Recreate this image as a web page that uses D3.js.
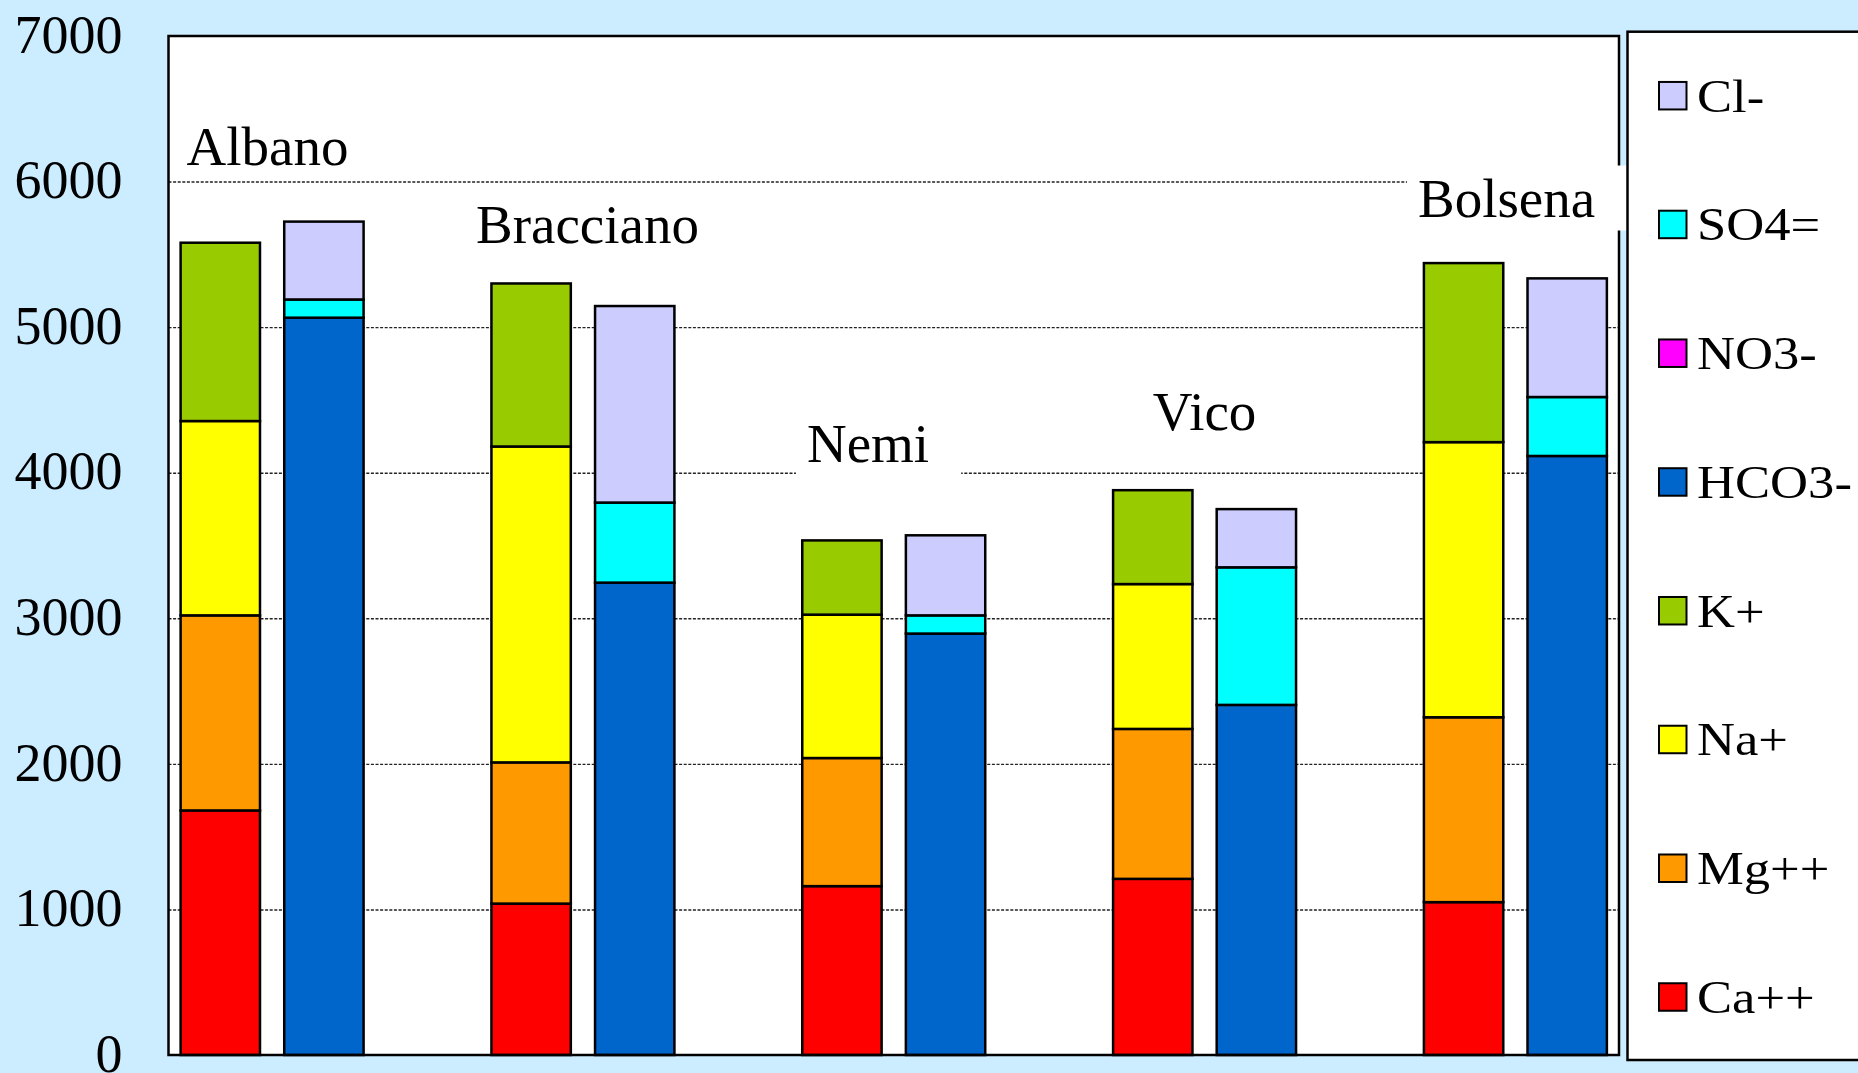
<!DOCTYPE html>
<html>
<head>
<meta charset="utf-8">
<script src="https://cdn.jsdelivr.net/npm/d3@7"></script>
<style>
  html, body { margin: 0; padding: 0; background: #CCECFF; }
  svg { display: block; }
  text { font-family: "Liberation Serif", "Times New Roman", serif; fill: #000; }
</style>
</head>
<body>
<svg id="chart" width="1858" height="1073"></svg>
<script>
// Lakes, each drawn as a cation column and an anion column
const lakes = ["Albano", "Bracciano", "Nemi", "Vico", "Bolsena"];

// Ion series in stacking order (bottom to top)
const cationKeys = ["Ca++", "Mg++", "Na+", "K+"];
const anionKeys  = ["HCO3-", "NO3-", "SO4=", "Cl-"];

// Cation concentrations per lake
const caValues   = [1680, 1040, 1160, 1210, 1050];
const mgValues   = [1340,  970,  880, 1030, 1270];
const naValues   = [1335, 2170,  985,  995, 1890];
const kValues    = [1225, 1120,  510,  645, 1230];

// Anion concentrations per lake
const hco3Values = [5065, 3245, 2895, 2405, 4115];
const no3Values  = [   0,    0,    0,    0,    0];
const so4Values  = [ 125,  550,  125,  945,  405];
const clValues   = [ 535, 1350,  550,  400,  815];

// Y axis tick labels
const yTicks = [0, 1000, 2000, 3000, 4000, 5000, 6000, 7000];
const gridTicks = [1000, 2000, 3000, 4000, 5000, 6000];

const ionColors = {
  "Ca++": "#FF0000", "Mg++": "#FF9900", "Na+": "#FFFF00", "K+": "#99CC00",
  "HCO3-": "#0066CC", "NO3-": "#FF00FF", "SO4=": "#00FFFF", "Cl-": "#CCCCFF"
};

const seriesValues = {
  "Ca++": caValues, "Mg++": mgValues, "Na+": naValues, "K+": kValues,
  "HCO3-": hco3Values, "NO3-": no3Values, "SO4=": so4Values, "Cl-": clValues
};
const allKeys = cationKeys.concat(anionKeys);

// One row per column; the other ion group is zero in that column
const rows = [];
const slots = [];
lakes.forEach((lake, i) => {
  const cat = { slot: lake + "|cat", lake };
  const an  = { slot: lake + "|an",  lake };
  allKeys.forEach(k => {
    const isCat = cationKeys.includes(k);
    cat[k] = isCat ? seriesValues[k][i] : 0;
    an[k]  = isCat ? 0 : seriesValues[k][i];
  });
  rows.push(cat, an);
  slots.push(cat.slot, an.slot);
  if (i < lakes.length - 1) slots.push(lake + "|gap");
});

const svg = d3.select("#chart");
const plot = { left: 168.5, right: 1619, top: 36, bottom: 1055 };

const x = d3.scaleBand().domain(slots)
  .range([plot.left, plot.right])
  .paddingInner(0.234).paddingOuter(0.117);
const y = d3.scaleLinear().domain([0, 7000]).range([plot.bottom, plot.top]);

// Plot area
svg.append("rect")
  .attr("x", plot.left).attr("y", plot.top)
  .attr("width", plot.right - plot.left).attr("height", plot.bottom - plot.top)
  .attr("fill", "#fff");

// Dashed gridlines
const grid = svg.append("g").attr("transform", `translate(${plot.left},0)`)
  .call(d3.axisLeft(y).tickValues(gridTicks).tickSize(-(plot.right - plot.left)).tickFormat(""));
grid.select(".domain").remove();
grid.selectAll("line")
  .attr("stroke", "#222").attr("stroke-width", 1.4).attr("stroke-dasharray", "3,1.6");

// Y axis labels
const yAxis = svg.append("g").attr("transform", `translate(${plot.left},0)`)
  .call(d3.axisLeft(y).tickValues(yTicks).tickSize(0).tickPadding(46).tickFormat(d3.format("d")));
yAxis.select(".domain").remove();
yAxis.selectAll("text")
  .attr("font-size", 54)
  .attr("font-family", "'Liberation Serif', 'Times New Roman', serif")
  .attr("dy", "0.3em");

// Stacked columns
const stack = d3.stack().keys(allKeys);
const layers = stack(rows);
svg.append("g").selectAll("g")
  .data(layers).join("g")
  .attr("fill", d => ionColors[d.key])
  .selectAll("rect")
  .data(d => d.filter(s => s[1] - s[0] > 0))
  .join("rect")
  .attr("x", d => x(d.data.slot))
  .attr("width", x.bandwidth())
  .attr("y", d => y(d[1]))
  .attr("height", d => y(d[0]) - y(d[1]))
  .attr("stroke", "#000").attr("stroke-width", 2.5);

// Plot frame
svg.append("rect")
  .attr("x", plot.left).attr("y", plot.top)
  .attr("width", plot.right - plot.left).attr("height", plot.bottom - plot.top)
  .attr("fill", "none").attr("stroke", "#000").attr("stroke-width", 2.5);

// Lake names on white boxes
const labelPlacement = {
  "Albano":    { dx: -4.6,  level: 6115 },
  "Bracciano": { dx: 4.6,   level: 5577 },
  "Nemi":      { dx: -25.7, level: 4076 },
  "Vico":      { dx: 0,     level: 4290 },
  "Bolsena":   { dx: -8.8,  level: 5760 }
};
lakes.forEach(lake => {
  const cx = (x(lake + "|cat") + x(lake + "|an") + x.bandwidth()) / 2 + labelPlacement[lake].dx;
  const g = svg.append("g");
  const box = g.append("rect").attr("fill", "#fff");
  const t = g.append("text")
    .attr("x", cx).attr("y", y(labelPlacement[lake].level))
    .attr("text-anchor", "middle").attr("font-size", 55)
    .text(lake);
  const bb = t.node().getBBox();
  box.attr("x", bb.x - 11).attr("y", bb.y - 2)
    .attr("width", bb.width + 11 + 32).attr("height", bb.height + 4);
});

// Legend
const legend = { left: 1627.5, top: 31.7, bottom: 1060 };
svg.append("rect")
  .attr("x", legend.left).attr("y", legend.top)
  .attr("width", 1900 - legend.left).attr("height", legend.bottom - legend.top)
  .attr("fill", "#fff").attr("stroke", "#000").attr("stroke-width", 2.5);

const legendKeys = allKeys.slice().reverse();
const ly = d3.scalePoint().domain(legendKeys).range([95.7, 997]);
const items = svg.append("g").selectAll("g")
  .data(legendKeys).join("g")
  .attr("transform", d => `translate(1659,${ly(d)})`);
items.append("rect")
  .attr("x", 0).attr("y", -13.75).attr("width", 27.5).attr("height", 27.5)
  .attr("fill", d => ionColors[d]).attr("stroke", "#000").attr("stroke-width", 2);
items.append("text")
  .attr("transform", "translate(38,0) scale(1.12,1)")
  .attr("dy", "0.34em")
  .attr("font-size", 47)
  .text(d => d);
</script>
</body>
</html>
